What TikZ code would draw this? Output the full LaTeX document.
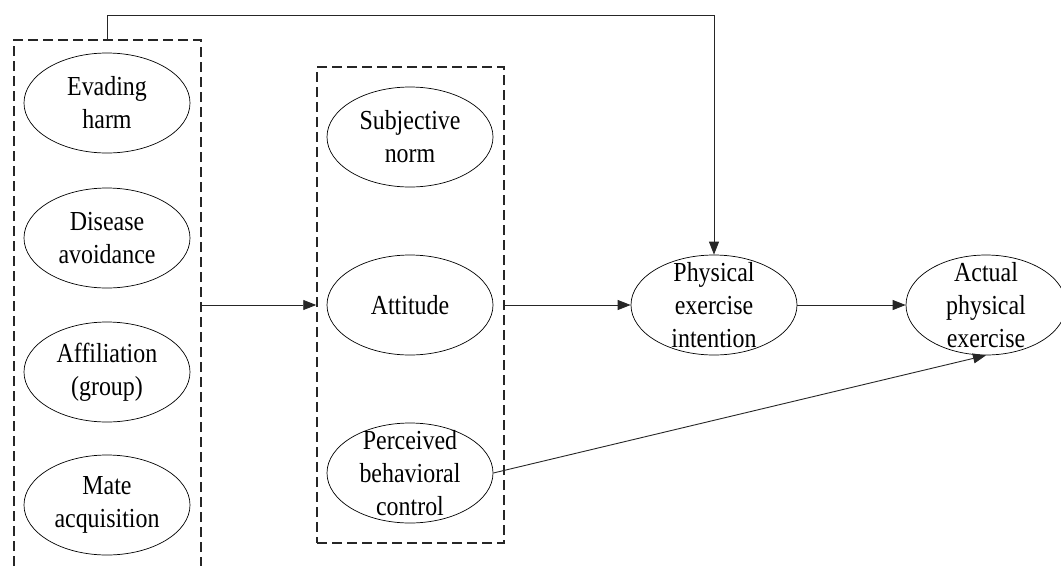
\documentclass[tikz,border=0pt]{standalone}
\usepackage{fontspec}
\setmainfont{Liberation Serif}[FakeStretch=0.87]
\usetikzlibrary{arrows.meta,shapes.geometric}
\begin{document}
\begin{tikzpicture}[x=1pt,y=-1pt,
  oval/.style={ellipse,draw=black,line width=0.7pt,minimum width=166pt,minimum height=100pt,inner sep=0pt},
  txt/.style={align=center,inner sep=0pt,font=\fontsize{27.5}{33}\selectfont},
  dbox/.style={draw=black!85,line width=1.5pt,dash pattern=on 10pt off 5pt},
  arr/.style={draw=black!85,line width=0.9pt,-{Triangle[length=13pt,width=10pt]}}]
\useasboundingbox (0,0) rectangle (1061,566);
% left dashed group (open at the bottom)
\draw[dbox] (14,566) -- (14,40) -- (201,40) -- (201,566);
\coordinate (Ltop) at (107,40);
\coordinate (Lbend) at (107,15);
\coordinate (Least) at (201,305);
% middle dashed group
\node[dbox,minimum width=187pt,minimum height=476pt,inner sep=0pt] (mid) at (410.5,305) {};
% left ellipses
\node[oval] (eh) at (107,103) {};
\node[txt] (eht) at (eh) {Evading\\harm};
\node[oval] (da) at (107,238) {};
\node[txt] (dat) at (da) {Disease\\avoidance};
\node[oval] (af) at (107,372) {};
\node[txt] (aft) at (af) {Affiliation\\(group)};
\node[oval] (ma) at (107,505) {};
\node[txt] (mat) at (ma) {Mate\\acquisition};
% middle ellipses
\node[oval] (sn) at (410,137) {};
\node[txt] (snt) at (sn) {Subjective\\norm};
\node[oval] (at) at (410,305) {};
\node[txt] (att) at (at) {Attitude};
\node[oval] (pb) at (410,473) {};
\node[txt] (pbt) at (pb) {Perceived\\behavioral\\control};
% right ellipses
\node[oval] (pe) at (714,305) {};
\node[txt] (pet) at (pe) {Physical\\exercise\\intention};
\node[oval,minimum width=160pt] (ap) at (986,305) {};
\node[txt] (apt) at (ap) {Actual\\physical\\exercise};
% connectors
\draw[arr] (Least) -- (mid.west |- Least);
\draw[arr] (mid.east |- at) -- (pe.west);
\draw[arr] (pe.east) -- (ap.west);
\draw[arr] (pb.east) -- (ap.south);
\draw[arr] (Ltop) -- (Lbend) -| (pe.north);
\end{tikzpicture}
\end{document}
